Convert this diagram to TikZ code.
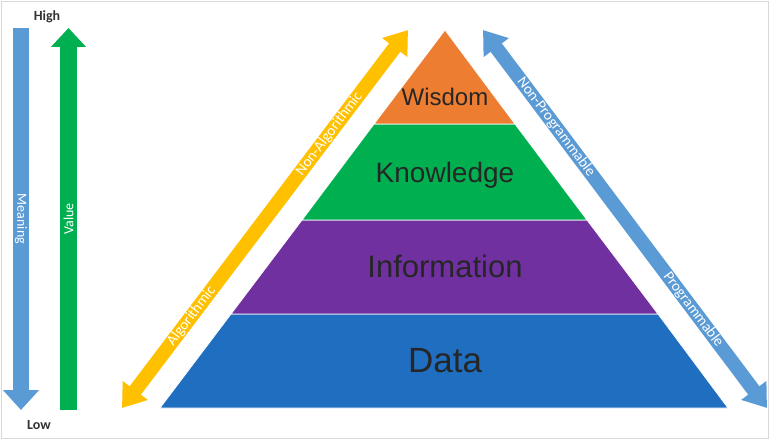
\documentclass[tikz,border=0pt]{standalone}
\usepackage{fontspec}
\setmainfont{Liberation Sans}
\newfontfamily\carlito{Carlito}
\usetikzlibrary{arrows.meta}
\definecolor{wisc}{HTML}{ED7D31}
\definecolor{knowc}{HTML}{00B050}
\definecolor{infoc}{HTML}{7030A0}
\definecolor{datac}{HTML}{1F6EC0}
\definecolor{algc}{HTML}{FFC000}
\definecolor{progc}{HTML}{5B9BD5}

\begin{document}
\begin{tikzpicture}[x=1pt,y=-1pt,
 lyr/.style={draw=white,line width=.8pt},
 lbl/.style={text=black!85,inner sep=0pt},
 alab/.style={font=\carlito\fontsize{15}{18}\selectfont,text=white,inner sep=0pt,sloped},
 side/.style={font=\carlito\fontsize{14}{17}\selectfont,text=white,inner sep=0pt},
 hl/.style={font=\carlito\bfseries\fontsize{14}{17}\selectfont,text=black!80,inner sep=0pt},
 dbl/.style={line width=14pt,{Triangle[length=22pt,width=30pt]}-{Triangle[length=22pt,width=30pt]}}]
\fill[white] (0,0) rectangle (770,443);
\useasboundingbox (0,0) rectangle (770,443);
\draw[gray!30,line width=.8pt] (1.5,1.5) rectangle (768,438);
% pyramid
\filldraw[lyr,fill=datac] (160,408)--(231,314)--(658,314)--(728,408)--cycle;
\filldraw[lyr,fill=infoc] (231,314)--(302,220)--(587,220)--(658,314)--cycle;
\filldraw[lyr,fill=knowc] (302,220)--(374,124)--(515,124)--(587,220)--cycle;
\filldraw[lyr,fill=wisc] (374,124)--(445,30)--(515,124)--cycle;
\node[lbl,font=\fontsize{24}{28}\selectfont] (wis) at (445,97) {Wisdom};
\node[lbl,font=\fontsize{28}{32}\selectfont] (know) at (445,175) {Knowledge};
\node[lbl,font=\fontsize{31}{36}\selectfont] (info) at (445,266) {Information};
\node[lbl,font=\fontsize{35}{40}\selectfont] (data) at (445,361) {Data};
% side arrows
\coordinate (alg) at (122,408);\coordinate (nonalg) at (408,30);
\coordinate (nonprog) at (483,30);\coordinate (prog) at (767,408);
\draw[dbl,algc] (alg)--node[alab,pos=.243]{Algorithmic} node[alab,pos=.725]{Non-Algorithmic}(nonalg);
\draw[dbl,progc] (nonprog)--node[alab,pos=.257]{Non-Programmable} node[alab,pos=.74]{Programmable}(prog);
% meaning / value
\node[hl] (high) at (47,17) {High};
\node[hl] (low) at (39,425) {Low};
\coordinate (mtop) at (21,28);\coordinate (mlow) at (21,410);
\coordinate (vlow) at (68.5,410);\coordinate (vtop) at (68.5,28);
\draw[progc,line width=16pt,-{Triangle[length=20pt,width=35pt]}] (mtop)--node[side,rotate=-90]{Meaning}(mlow);
\draw[knowc,line width=17pt,-{Triangle[length=19pt,width=34pt]}] (vlow)--node[side,rotate=90]{Value}(vtop);
\end{tikzpicture}
\end{document}
